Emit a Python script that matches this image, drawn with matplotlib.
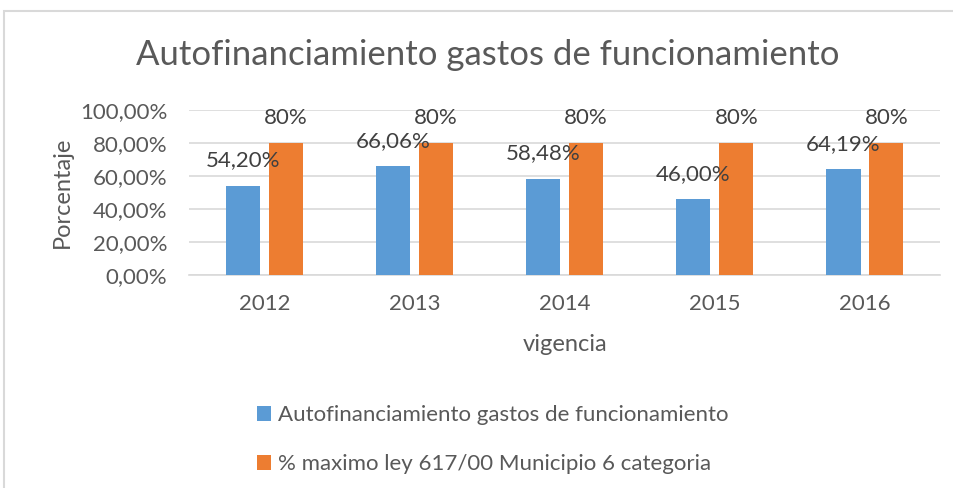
import numpy as np
import matplotlib.pyplot as plt
from matplotlib.patches import Rectangle

years = ["2012", "2013", "2014", "2015", "2016"]
autofin = [54.20, 66.06, 58.48, 46.00, 64.19]
maximo = [80, 80, 80, 80, 80]
autofin_labels = ["54,20%", "66,06%", "58,48%", "46,00%", "64,19%"]
maximo_labels = ["80%", "80%", "80%", "80%", "80%"]
yticks = [0, 20, 40, 60, 80, 100]
ytick_labels = ["0,00%", "20,00%", "40,00%", "60,00%", "80,00%", "100,00%"]

BLUE = "#5B9BD5"
ORANGE = "#ED7D31"
TXT = "#595959"
GRID = "#D9D9D9"

plt.rcParams['font.family'] = ['Lato', 'DejaVu Sans']

fig = plt.figure(figsize=(9.54, 4.88), dpi=100)
ax = fig.add_axes([189.5/954, 1 - 275/488, 750.5/954, 165/488])

x = np.arange(len(years))
w = 0.227
off = 0.143
b1 = ax.bar(x - off, autofin, w, color=BLUE, label="Autofinanciamiento gastos de funcionamiento", zorder=3)
b2 = ax.bar(x + off, maximo, w, color=ORANGE, label="% maximo ley 617/00 Municipio 6 categoria", zorder=3)

# etiquetas de datos encima de cada barra
for bars, labels in [(b1, autofin_labels), (b2, maximo_labels)]:
    for rect, lab in zip(bars, labels):
        ax.annotate(lab, (rect.get_x() + rect.get_width()/2, rect.get_height()),
                    xytext=(0, 18), textcoords="offset points", ha="center", va="center",
                    fontsize=16, color="#404040", zorder=4)

ax.set_xlim(-0.5, len(years) - 0.5)
ax.set_ylim(0, 100)
ax.set_yticks(yticks)
ax.set_yticklabels(ytick_labels)
ax.set_xticks(x)
ax.set_xticklabels(years)
ax.tick_params(axis="both", length=0, labelsize=16, colors=TXT)
ax.tick_params(axis="y", pad=16)
ax.tick_params(axis="x", pad=14)
ax.grid(axis="y", color=GRID, linewidth=1.2, zorder=0)
for s in ["top", "right", "left"]:
    ax.spines[s].set_visible(False)
ax.spines["bottom"].set_color(GRID)
ax.spines["bottom"].set_linewidth(1.2)

ax.set_xlabel("vigencia", fontsize=17, color=TXT, labelpad=14)
ax.set_ylabel("Porcentaje", fontsize=17, color=TXT, labelpad=5)

fig.text(488/954, 1 - 55/488, "Autofinanciamiento gastos de funcionamiento",
         ha="center", va="center", fontsize=25, color=TXT)

fig.legend(handles=[b1, b2], loc="upper left", bbox_to_anchor=(257/954, 1 - 405/488),
           frameon=False, fontsize=16, labelcolor=TXT, handlelength=0.65, handleheight=0.65,
           handletextpad=0.3, labelspacing=1.3, borderpad=0, borderaxespad=0)

fig.patches.append(Rectangle((4.5/954, -0.1), 1.2, 1.1 - 11.5/488, transform=fig.transFigure,
                             fill=False, edgecolor=GRID, linewidth=1.5))

fig.savefig("out.png", dpi=100)
